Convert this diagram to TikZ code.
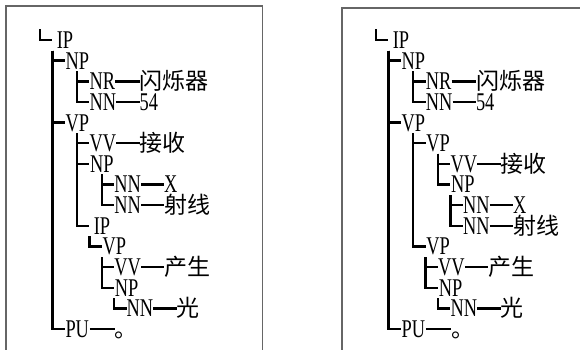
\documentclass[tikz,border=0pt]{standalone}
\usepackage{fontspec}
\usetikzlibrary{calc}
\newfontfamily\tagfont[FakeStretch=0.72]{Liberation Serif}
\newfontfamily\cjk{Noto Sans CJK SC}

\begin{document}
\begin{tikzpicture}
  [x=1pt,y=-1pt,
   tag/.style={font=\tagfont\fontsize{25.5}{25.5}\selectfont,anchor=west,inner sep=0pt,
     minimum width=24.7pt,minimum height=20.6pt,text height=16.8pt,text depth=0pt},
   word/.style={font=\cjk\fontsize{23}{23}\selectfont,anchor=west,inner sep=0pt,
     text height=16.4pt,text depth=0pt},
   br/.style={line width=2.4pt},
   panel/.style={draw=black!60,line width=1.2pt}]
  \useasboundingbox (0,0) rectangle (580,349);
  \draw[panel] (6,350) -- (6,6) -- (262.5,6) -- (262.5,350);
  \draw[panel] (342,350) -- (342,8) -- (581,8);

  % left tree
  \coordinate (atop) at (40,29);
  \node[tag] (a0) at (52.4,40) {IP};
  \node[tag] (a1) at (64.7,60.6) {NP};
  \node[tag] (a2) at (89.4,81.3) {NR};
  \node[tag] (a3) at (89.4,101.9) {NN};
  \node[tag] (a4) at (64.7,122.6) {VP};
  \node[tag] (a5) at (89.4,143.2) {VV};
  \node[tag] (a6) at (89.4,163.9) {NP};
  \node[tag] (a7) at (114.1,184.5) {NN};
  \node[tag] (a8) at (114.1,205.2) {NN};
  \node[tag] (a9) at (89.4,225.8) {IP};
  \node[tag] (a10) at (101.8,246.5) {VP};
  \node[tag] (a11) at (114.1,267.1) {VV};
  \node[tag] (a12) at (114.1,287.8) {NP};
  \node[tag] (a13) at (126.5,308.4) {NN};
  \node[tag] (a14) at (64.7,329.1) {PU};
  \node[word] (a2w) at (139.5,81.3) {闪烁器};
  \node[word] (a3w) at (139.5,101.9) {{\tagfont\fontsize{25.5}{25.5}\selectfont 54}};
  \node[word] (a5w) at (139.5,143.2) {接收};
  \node[word] (a7w) at (164,184.5) {{\tagfont\fontsize{25.5}{25.5}\selectfont X}};
  \node[word] (a8w) at (164,205.2) {射线};
  \node[word] (a11w) at (164,267.1) {产生};
  \node[word] (a13w) at (176.5,308.4) {光};
  \node[word] (a14w) at (114.6,329.1) {。};

  % right tree
  \coordinate (btop) at (376,29);
  \node[tag] (b0) at (388.4,40) {IP};
  \node[tag] (b1) at (400.8,60.6) {NP};
  \node[tag] (b2) at (425.6,81.3) {NR};
  \node[tag] (b3) at (425.6,101.9) {NN};
  \node[tag] (b4) at (400.8,122.6) {VP};
  \node[tag] (b5) at (425.6,143.2) {VP};
  \node[tag] (b6) at (450.4,163.9) {VV};
  \node[tag] (b7) at (450.4,184.5) {NP};
  \node[tag] (b8) at (462.8,205.2) {NN};
  \node[tag] (b9) at (462.8,225.8) {NN};
  \node[tag] (b10) at (425.6,246.5) {VP};
  \node[tag] (b11) at (438,267.1) {VV};
  \node[tag] (b12) at (438,287.8) {NP};
  \node[tag] (b13) at (450.4,308.4) {NN};
  \node[tag] (b14) at (400.8,329.1) {PU};
  \node[word] (b2w) at (475.8,81.3) {闪烁器};
  \node[word] (b3w) at (475.8,101.9) {{\tagfont\fontsize{25.5}{25.5}\selectfont 54}};
  \node[word] (b6w) at (500.5,163.9) {接收};
  \node[word] (b8w) at (513,205.2) {{\tagfont\fontsize{25.5}{25.5}\selectfont X}};
  \node[word] (b9w) at (513,225.8) {射线};
  \node[word] (b11w) at (488.2,267.1) {产生};
  \node[word] (b13w) at (500.5,308.4) {光};
  \node[word] (b14w) at (451,329.1) {。};

  \draw[br] (atop) |- (a0.west);
  \draw[br] (btop) |- (b0.west);
  \foreach \from/\to in {a0/a1,a0/a4,a0/a14,a1/a2,a1/a3,a4/a5,a4/a6,a4/a9,
      a6/a7,a6/a8,a9/a10,a10/a11,a10/a12,a12/a13,
      b0/b1,b0/b4,b0/b14,b1/b2,b1/b3,b4/b5,b4/b10,b5/b6,b5/b7,
      b7/b8,b7/b9,b10/b11,b10/b12,b12/b13}
    \draw[br] ($(\from.south -| \to.west)+(-12.4,0)$) |- (\to.west);
  \foreach \from/\to in {a2/a2w,a3/a3w,a5/a5w,a7/a7w,a8/a8w,a11/a11w,a13/a13w,a14/a14w,
      b2/b2w,b3/b3w,b6/b6w,b8/b8w,b9/b9w,b11/b11w,b13/b13w,b14/b14w}
    \draw[br] (\from.east) -- (\to.west);
\end{tikzpicture}
\end{document}
